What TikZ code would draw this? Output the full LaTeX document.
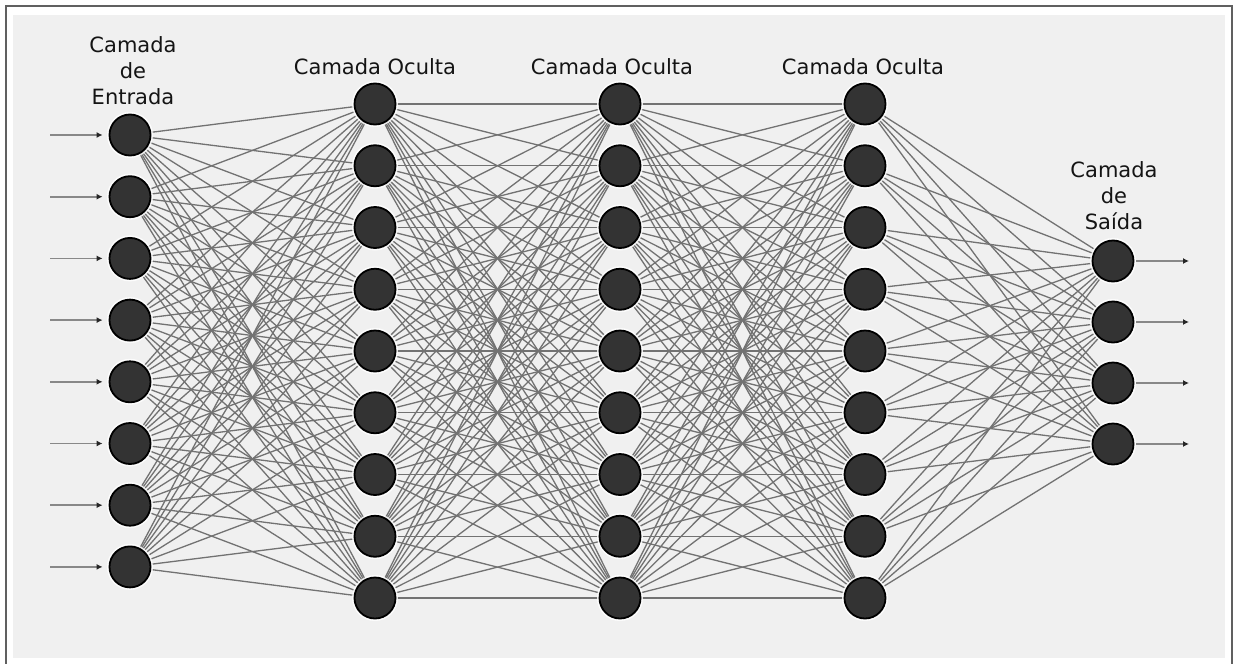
\documentclass[tikz,border=0pt]{standalone}
\usepackage{fontspec}
\setmainfont{DejaVu Sans}
\usetikzlibrary{arrows.meta}
\pgfdeclarelayer{paper}
\pgfdeclarelayer{background}
\pgfsetlayers{paper,background,main}
\definecolor{panel}{HTML}{F0F0F0}
\definecolor{framegray}{HTML}{606060}
\definecolor{neuronfill}{HTML}{333333}
\definecolor{wiregray}{HTML}{727272}
\definecolor{arrowgray}{HTML}{888888}
\definecolor{tipgray}{HTML}{262626}
\tikzset{
  neuron/.style={circle, minimum size=41pt, inner sep=0pt, fill=neuronfill,
    draw=black, line width=1.8pt,
    preaction={draw=white, line width=5pt, opacity=0.85}},
  wire/.style={draw=wiregray, line width=1.3pt},
  ioarrow/.style={draw=arrowgray, line width=1.8pt,
    -{Latex[length=6pt,width=6pt,color=tipgray]}},
  layerlabel/.style={font=\fontsize{21}{26}\selectfont, text=black!92, align=center, inner sep=0pt}
}
\begin{document}
\begin{tikzpicture}[x=1pt,y=-1pt]
  \useasboundingbox (0,0) rectangle (1235,664);
  % page and panel
  \begin{pgfonlayer}{paper}
    \fill[white] (0,0) rectangle (1235,664);
    \draw[framegray, line width=2pt] (6,664) -- (6,6) -- (1232,6) -- (1232,664);
    \fill[panel] (13,15) rectangle (1225,658);
  \end{pgfonlayer}

  % input layer
  \foreach \k in {1,...,8} {
    \node[neuron] (i\k) at (130, {135+61.7*(\k-1)}) {};
    \coordinate (src\k) at (50, {135+61.7*(\k-1)});
  }
  % hidden layers
  \foreach \l/\x in {1/375, 2/620, 3/865} {
    \foreach \k in {1,...,9} {
      \node[neuron] (h\l-\k) at (\x, {104+61.75*(\k-1)}) {};
    }
  }
  % output layer
  \foreach \k in {1,...,4} {
    \node[neuron] (o\k) at (1113, {261+61*(\k-1)}) {};
    \coordinate (dst\k) at (1189, {261+61*(\k-1)});
  }

  % connections
  \begin{pgfonlayer}{background}
    \foreach \a in {1,...,8} \foreach \b in {1,...,9}
      \draw[wire] (i\a.center) -- (h1-\b.center);
    \foreach \a in {1,...,9} \foreach \b in {1,...,9} {
      \draw[wire] (h1-\a.center) -- (h2-\b.center);
      \draw[wire] (h2-\a.center) -- (h3-\b.center);
    }
    \foreach \a in {1,...,9} \foreach \b in {1,...,4}
      \draw[wire] (h3-\a.center) -- (o\b.center);
  \end{pgfonlayer}

  % inputs and outputs
  \foreach \k in {1,...,8}
    \draw[ioarrow, shorten >=6pt] (src\k) -- (i\k.west);
  \foreach \k in {1,...,4}
    \draw[ioarrow, shorten <=2pt] (o\k.east) -- (dst\k);

  % layer titles
  \node[layerlabel] (tin) at (133,71) {Camada\\de\\Entrada};
  \node[layerlabel, anchor=base] (th1) at (375,74) {Camada Oculta};
  \node[layerlabel, anchor=base] (th2) at (612,74) {Camada Oculta};
  \node[layerlabel, anchor=base] (th3) at (863,74) {Camada Oculta};
  \node[layerlabel] (tout) at (1114,196) {Camada\\de\\Saída};
\end{tikzpicture}
\end{document}
